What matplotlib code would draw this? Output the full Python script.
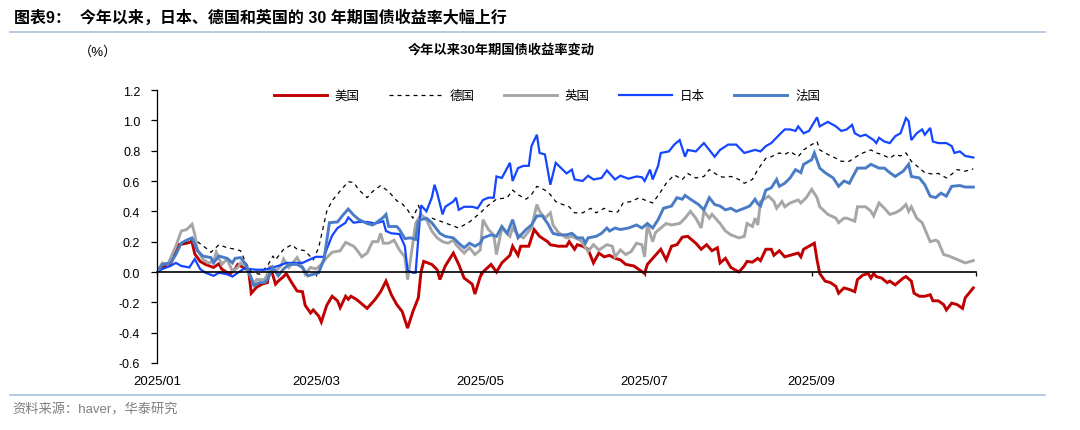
import matplotlib.pyplot as plt
import matplotlib.dates as mdates
import pandas as pd
from matplotlib.lines import Line2D

plt.rcParams['font.family'] = ['Liberation Sans', 'Noto Sans CJK SC']
plt.rcParams['axes.unicode_minus'] = False

# (day offset from 2025-01-01, change in 30y yield, pct pts)
us = [(0, 0.0), (2, 0.03), (5, 0.05), (7, 0.13), (8, 0.18), (11, 0.19), (13, 0.20), (14, 0.12),
      (16, 0.07), (18, 0.05), (21, 0.03), (23, 0.055), (24, 0.02), (27, -0.015), (29, 0.02),
      (30, 0.05), (32, 0.03), (34, 0.01), (35, -0.14), (37, -0.10), (39, -0.08), (41, -0.07),
      (42, 0.04), (44, -0.08), (45, -0.06), (47, -0.03), (48, -0.01), (50, -0.07), (52, -0.125),
      (54, -0.13), (55, -0.22), (57, -0.27), (58, -0.25), (60, -0.29), (61, -0.33), (63, -0.22),
      (65, -0.16), (67, -0.19), (68, -0.235), (70, -0.16), (71, -0.18), (72, -0.16), (74, -0.18),
      (78, -0.24), (81, -0.18), (83, -0.13), (85, -0.06), (87, -0.15), (89, -0.215), (91, -0.26),
      (93, -0.37), (95, -0.26), (97, -0.17), (98, 0.0), (99, 0.07), (102, 0.05), (104, 0.015),
      (105, -0.05), (107, 0.04), (110, 0.125), (112, 0.05), (114, -0.04), (117, -0.08),
      (118, -0.145), (120, -0.03), (121, 0.0), (124, 0.05), (126, 0.0), (128, 0.06), (131, 0.11),
      (132, 0.17), (134, 0.11), (135, 0.17), (138, 0.17), (140, 0.28), (142, 0.235), (145, 0.20),
      (146, 0.18), (149, 0.17), (152, 0.17), (153, 0.20), (155, 0.15), (156, 0.18), (158, 0.17),
      (160, 0.15), (162, 0.06), (164, 0.125), (166, 0.10), (168, 0.11), (170, 0.09), (172, 0.08),
      (174, 0.05), (177, 0.04), (179, 0.015), (181, -0.01), (182, 0.05), (185, 0.11), (187, 0.15),
      (189, 0.08), (191, 0.17), (193, 0.18), (195, 0.23), (197, 0.235), (200, 0.19), (202, 0.15),
      (204, 0.18), (206, 0.14), (208, 0.16), (209, 0.06), (211, 0.09), (213, 0.03), (216, 0.0),
      (218, 0.04), (219, 0.07), (221, 0.065), (223, 0.09), (224, 0.075), (226, 0.15), (228, 0.15),
      (229, 0.11), (231, 0.14), (233, 0.10), (235, 0.11), (238, 0.125), (239, 0.10), (240, 0.15),
      (242, 0.17), (244, 0.19), (245, 0.08), (246, -0.01), (248, -0.06), (250, -0.07),
      (252, -0.095), (253, -0.14), (255, -0.105), (257, -0.115), (259, -0.13), (260, -0.05),
      (262, -0.02), (264, -0.01), (265, -0.04), (266, -0.01), (267, -0.03), (269, -0.04),
      (271, -0.07), (272, -0.06), (274, -0.085), (277, -0.04), (278, -0.03), (280, -0.06),
      (281, -0.14), (283, -0.16), (285, -0.16), (287, -0.15), (288, -0.19), (290, -0.19),
      (292, -0.215), (293, -0.25), (295, -0.205), (297, -0.215), (299, -0.24), (300, -0.17),
      (303, -0.105)]

germany = [(0, 0.0), (2, 0.02), (5, 0.05), (7, 0.14), (10, 0.19), (13, 0.215), (15, 0.20),
           (18, 0.16), (20, 0.13), (23, 0.18), (26, 0.16), (29, 0.15), (31, 0.14), (33, 0.06),
           (35, 0.0), (38, -0.015), (41, 0.04), (43, 0.105), (44, 0.08), (47, 0.15), (50, 0.18),
           (52, 0.15), (55, 0.14), (58, 0.08), (60, 0.16), (63, 0.40), (65, 0.47), (68, 0.535),
           (71, 0.595), (73, 0.59), (75, 0.54), (78, 0.49), (80, 0.53), (83, 0.57), (86, 0.53),
           (89, 0.47), (91, 0.45), (93, 0.41), (95, 0.355), (97, 0.44), (99, 0.345), (102, 0.355),
           (106, 0.33), (109, 0.31), (112, 0.29), (116, 0.33), (120, 0.39), (123, 0.44),
           (126, 0.48), (130, 0.49), (132, 0.54), (134, 0.51), (137, 0.48), (139, 0.51),
           (141, 0.565), (144, 0.54), (146, 0.51), (148, 0.465), (149, 0.455), (153, 0.43),
           (155, 0.39), (158, 0.39), (161, 0.42), (163, 0.39), (166, 0.42), (168, 0.40),
           (171, 0.395), (173, 0.455), (176, 0.465), (179, 0.49), (181, 0.475), (184, 0.455),
           (187, 0.53), (189, 0.585), (192, 0.64), (195, 0.61), (197, 0.65), (200, 0.62),
           (203, 0.63), (205, 0.675), (208, 0.64), (210, 0.625), (213, 0.63), (216, 0.61),
           (218, 0.585), (221, 0.61), (223, 0.675), (226, 0.75), (228, 0.76), (231, 0.785),
           (233, 0.775), (235, 0.795), (238, 0.76), (240, 0.805), (243, 0.84), (245, 0.86),
           (246, 0.805), (249, 0.775), (252, 0.75), (254, 0.73), (257, 0.73), (259, 0.755),
           (262, 0.785), (265, 0.805), (267, 0.785), (269, 0.775), (272, 0.75), (274, 0.775),
           (276, 0.765), (278, 0.785), (280, 0.73), (283, 0.685), (285, 0.655), (288, 0.645),
           (290, 0.65), (293, 0.62), (295, 0.645), (297, 0.675), (300, 0.665), (303, 0.68)]

uk = [(0, 0.0), (2, 0.06), (4, 0.05), (7, 0.17), (9, 0.27), (11, 0.28), (13, 0.315), (14, 0.25),
      (15, 0.15), (17, 0.085), (19, 0.06), (21, 0.07), (22, 0.13), (24, 0.05), (26, 0.085),
      (28, 0.005), (30, 0.03), (31, 0.06), (33, 0.04), (36, -0.08), (37, -0.05), (40, -0.05),
      (42, 0.03), (44, 0.005), (46, 0.04), (47, 0.085), (49, 0.03), (52, 0.095), (54, 0.03),
      (55, -0.015), (57, 0.03), (59, 0.02), (61, 0.05), (63, 0.095), (65, 0.13), (68, 0.14),
      (70, 0.195), (73, 0.17), (74, 0.15), (76, 0.10), (78, 0.125), (80, 0.20), (82, 0.20),
      (83, 0.255), (84, 0.19), (86, 0.19), (88, 0.21), (90, 0.145), (92, 0.10), (93, -0.05),
      (94, 0.07), (96, 0.32), (98, 0.38), (100, 0.345), (102, 0.27), (104, 0.225), (106, 0.20),
      (108, 0.19), (110, 0.21), (111, 0.18), (114, 0.125), (116, 0.16), (118, 0.115),
      (120, 0.145), (121, 0.345), (123, 0.28), (125, 0.245), (126, 0.115), (128, 0.29),
      (131, 0.235), (132, 0.29), (134, 0.245), (136, 0.225), (139, 0.29), (141, 0.445),
      (142, 0.40), (144, 0.355), (146, 0.39), (147, 0.31), (149, 0.26), (152, 0.225),
      (154, 0.235), (157, 0.21), (158, 0.19), (160, 0.135), (162, 0.18), (164, 0.145),
      (167, 0.18), (169, 0.17), (170, 0.10), (172, 0.145), (174, 0.115), (176, 0.135),
      (178, 0.19), (180, 0.18), (181, 0.10), (182, 0.31), (184, 0.20), (185, 0.26), (187, 0.29),
      (189, 0.32), (191, 0.31), (194, 0.32), (196, 0.355), (198, 0.40), (200, 0.355),
      (202, 0.29), (203, 0.40), (205, 0.355), (206, 0.38), (209, 0.32), (211, 0.27),
      (213, 0.245), (216, 0.225), (218, 0.235), (219, 0.32), (221, 0.30), (222, 0.355),
      (223, 0.31), (224, 0.465), (227, 0.50), (229, 0.465), (230, 0.42), (232, 0.465),
      (233, 0.43), (235, 0.455), (238, 0.475), (239, 0.455), (241, 0.49), (243, 0.545),
      (245, 0.49), (246, 0.43), (249, 0.38), (252, 0.355), (253, 0.325), (255, 0.355),
      (256, 0.355), (259, 0.335), (260, 0.43), (263, 0.43), (265, 0.40), (266, 0.37),
      (268, 0.455), (270, 0.42), (272, 0.38), (274, 0.39), (276, 0.41), (278, 0.445),
      (279, 0.40), (280, 0.43), (282, 0.355), (284, 0.325), (287, 0.20), (289, 0.21),
      (290, 0.20), (292, 0.115), (294, 0.105), (296, 0.09), (298, 0.075), (300, 0.06),
      (303, 0.075)]

japan = [(0, 0.0), (2, 0.02), (5, 0.04), (7, 0.06), (9, 0.04), (12, 0.03), (14, 0.085),
         (16, 0.02), (18, -0.005), (21, -0.025), (23, -0.005), (26, -0.015), (28, -0.03),
         (30, -0.005), (33, 0.03), (34, 0.02), (37, 0.015), (40, 0.015), (43, 0.03), (45, 0.04),
         (48, 0.06), (51, 0.06), (54, 0.06), (57, 0.085), (59, 0.10), (62, 0.10), (63, 0.15),
         (65, 0.24), (67, 0.29), (70, 0.325), (71, 0.36), (73, 0.325), (75, 0.33), (78, 0.33),
         (81, 0.32), (84, 0.335), (85, 0.27), (87, 0.255), (90, 0.25), (92, 0.17), (93, 0.01),
         (95, -0.005), (96, -0.005), (97, 0.225), (98, 0.44), (100, 0.40), (102, 0.49),
         (103, 0.575), (104, 0.52), (106, 0.38), (107, 0.43), (110, 0.465), (111, 0.49),
         (112, 0.41), (114, 0.43), (117, 0.43), (119, 0.42), (121, 0.475), (123, 0.49),
         (125, 0.49), (126, 0.63), (128, 0.62), (131, 0.72), (132, 0.60), (134, 0.685),
         (136, 0.70), (138, 0.70), (139, 0.83), (141, 0.905), (142, 0.785), (144, 0.775),
         (146, 0.575), (148, 0.72), (150, 0.685), (152, 0.65), (154, 0.675), (155, 0.61),
         (158, 0.60), (160, 0.635), (162, 0.61), (165, 0.62), (167, 0.67), (170, 0.61),
         (172, 0.635), (175, 0.615), (178, 0.63), (180, 0.625), (181, 0.60), (183, 0.675),
         (184, 0.61), (186, 0.70), (187, 0.785), (190, 0.795), (192, 0.84), (194, 0.87),
         (196, 0.76), (197, 0.805), (200, 0.795), (203, 0.85), (205, 0.805), (207, 0.76),
         (209, 0.805), (212, 0.84), (215, 0.84), (218, 0.785), (220, 0.795), (222, 0.805),
         (224, 0.795), (226, 0.83), (228, 0.85), (231, 0.905), (233, 0.94), (235, 0.94),
         (237, 0.93), (238, 0.96), (240, 0.915), (242, 0.93), (243, 0.96), (245, 1.02),
         (246, 0.96), (249, 0.99), (252, 0.96), (254, 0.93), (256, 0.94), (258, 0.97),
         (259, 0.915), (261, 0.895), (263, 0.905), (266, 0.87), (267, 0.85), (268, 0.885),
         (270, 0.86), (272, 0.85), (274, 0.895), (276, 0.915), (278, 1.015), (279, 0.995),
         (280, 0.87), (282, 0.915), (284, 0.94), (285, 0.905), (287, 0.95), (288, 0.86),
         (290, 0.85), (293, 0.85), (295, 0.83), (296, 0.785), (298, 0.795), (300, 0.765),
         (303, 0.755)]

france = [(0, 0.0), (2, 0.05), (5, 0.06), (7, 0.115), (9, 0.19), (11, 0.21), (13, 0.225),
          (15, 0.14), (17, 0.105), (20, 0.095), (21, 0.06), (23, 0.105), (26, 0.09), (28, 0.06),
          (29, 0.09), (31, 0.095), (33, 0.05), (34, 0.005), (36, -0.09), (38, -0.07), (40, -0.07),
          (41, -0.05), (43, 0.03), (45, -0.025), (47, 0.02), (49, 0.05), (52, 0.05), (54, 0.03),
          (56, -0.025), (58, -0.015), (60, -0.005), (62, 0.085), (64, 0.325), (67, 0.33),
          (69, 0.375), (71, 0.415), (73, 0.375), (75, 0.345), (78, 0.32), (80, 0.31), (81, 0.32),
          (84, 0.36), (85, 0.38), (86, 0.30), (89, 0.30), (90, 0.28), (92, 0.22), (94, 0.225),
          (96, 0.215), (97, 0.335), (98, 0.345), (100, 0.355), (102, 0.325), (105, 0.255),
          (107, 0.235), (110, 0.225), (112, 0.19), (114, 0.16), (116, 0.19), (118, 0.17),
          (120, 0.19), (121, 0.225), (124, 0.245), (126, 0.235), (128, 0.30), (130, 0.255),
          (132, 0.345), (134, 0.225), (137, 0.28), (139, 0.31), (141, 0.37), (143, 0.37),
          (145, 0.32), (147, 0.255), (149, 0.245), (152, 0.245), (154, 0.255), (156, 0.225),
          (158, 0.225), (159, 0.19), (160, 0.225), (163, 0.235), (165, 0.255), (167, 0.29),
          (168, 0.27), (170, 0.29), (172, 0.28), (175, 0.29), (178, 0.31), (180, 0.29),
          (182, 0.32), (184, 0.29), (186, 0.345), (188, 0.42), (191, 0.435), (193, 0.49),
          (195, 0.48), (196, 0.505), (198, 0.48), (201, 0.445), (203, 0.41), (205, 0.49),
          (207, 0.445), (209, 0.435), (211, 0.41), (213, 0.42), (215, 0.40), (218, 0.42),
          (220, 0.435), (222, 0.48), (223, 0.45), (224, 0.435), (226, 0.54), (228, 0.555),
          (230, 0.61), (231, 0.565), (233, 0.585), (235, 0.62), (237, 0.675), (239, 0.655),
          (240, 0.71), (243, 0.74), (244, 0.785), (246, 0.685), (248, 0.655), (251, 0.62),
          (253, 0.565), (255, 0.60), (257, 0.585), (258, 0.62), (260, 0.685), (263, 0.685),
          (265, 0.71), (268, 0.685), (270, 0.685), (272, 0.655), (274, 0.63), (277, 0.665),
          (279, 0.71), (280, 0.63), (283, 0.62), (285, 0.575), (287, 0.50), (289, 0.49),
          (291, 0.52), (293, 0.50), (295, 0.565), (298, 0.57), (300, 0.56), (303, 0.56)]

tick_dates = ['2025-01-01', '2025-03-01', '2025-05-01', '2025-07-01', '2025-09-01', '2025-11-01']
tick_labels = ['2025/01', '2025/03', '2025/05', '2025/07', '2025/09', '']
y_ticks = [-0.6, -0.4, -0.2, 0.0, 0.2, 0.4, 0.6, 0.8, 1.0, 1.2]

start = pd.Timestamp('2025-01-01')


def unpack(pairs):
    days, vals = zip(*pairs)
    return start + pd.to_timedelta(list(days), unit='D'), list(vals)


W, H = 1080, 431
fig = plt.figure(figsize=(W / 100, H / 100), dpi=100)
ax = fig.add_axes([157 / W, 1 - 364 / H, 819 / W, 273 / H])

styles = [
    ('美国', us, dict(color='#c00000', lw=2.1)),
    ('德国', germany, dict(color='black', lw=0.9, dashes=(3.2, 3.2))),
    ('英国', uk, dict(color='#a6a6a6', lw=2.1)),
    ('日本', japan, dict(color='#1446ff', lw=1.6)),
    ('法国', france, dict(color='#4a7cc6', lw=2.1)),
]
for name, pairs, kw in styles:
    d, v = unpack(pairs)
    ax.plot(d, v, label=name, solid_joinstyle='miter', **kw)

ax.set_ylim(-0.6, 1.2)
ax.set_xlim(pd.Timestamp('2025-01-01'), pd.Timestamp('2025-11-01'))
ax.set_yticks(y_ticks)
ax.set_yticklabels([f'{t:.1f}' for t in y_ticks])
ax.tick_params(axis='y', direction='out', length=4, width=0.9, pad=8, labelsize=9)

ticks = mdates.date2num(pd.to_datetime(tick_dates))
ax.set_xticks(ticks)
ax.tick_params(axis='x', direction='out', length=3, width=0.9, labelbottom=False)
ax.spines['bottom'].set_position(('data', 0))
ax.spines['bottom'].set_linewidth(1.2)
for s in ['top', 'right']:
    ax.spines[s].set_visible(False)
ax.spines['left'].set_linewidth(0.9)

sec = ax.secondary_xaxis('bottom')
sec.set_xticks(ticks)
sec.set_xticklabels(tick_labels)
sec.tick_params(length=0, pad=9, labelsize=9.5)
sec.spines['bottom'].set_visible(False)

ax.legend(loc='center', bbox_to_anchor=(0.476, 0.978), ncol=5, frameon=False,
          fontsize=9, handlelength=4.3, handletextpad=0.6, columnspacing=2.3)

# header, subtitle, source
fig.text(14 / W, 1 - 18 / H, '图表9：  今年以来，日本、德国和英国的 30 年期国债收益率大幅上行',
         fontsize=11.5, weight='bold', va='center', ha='left')
fig.add_artist(Line2D([10 / W, 1045 / W], [1 - 33 / H] * 2, color='#a9c0e0', lw=1.2))
fig.text(98 / W, 1 - 52 / H, '（%）', fontsize=9.5, va='center', ha='center')
fig.text(501 / W, 1 - 50 / H, '今年以来30年期国债收益率变动', fontsize=9.5, weight='bold',
         va='center', ha='center')
fig.add_artist(Line2D([10 / W, 1045 / W], [1 - 396 / H] * 2, color='#a9c0e0', lw=1.2))
fig.text(12 / W, 1 - 410 / H, '资料来源：haver，华泰研究', fontsize=9.5, color='#7f7f7f',
         va='center', ha='left')

fig.savefig('out.png', dpi=100)
